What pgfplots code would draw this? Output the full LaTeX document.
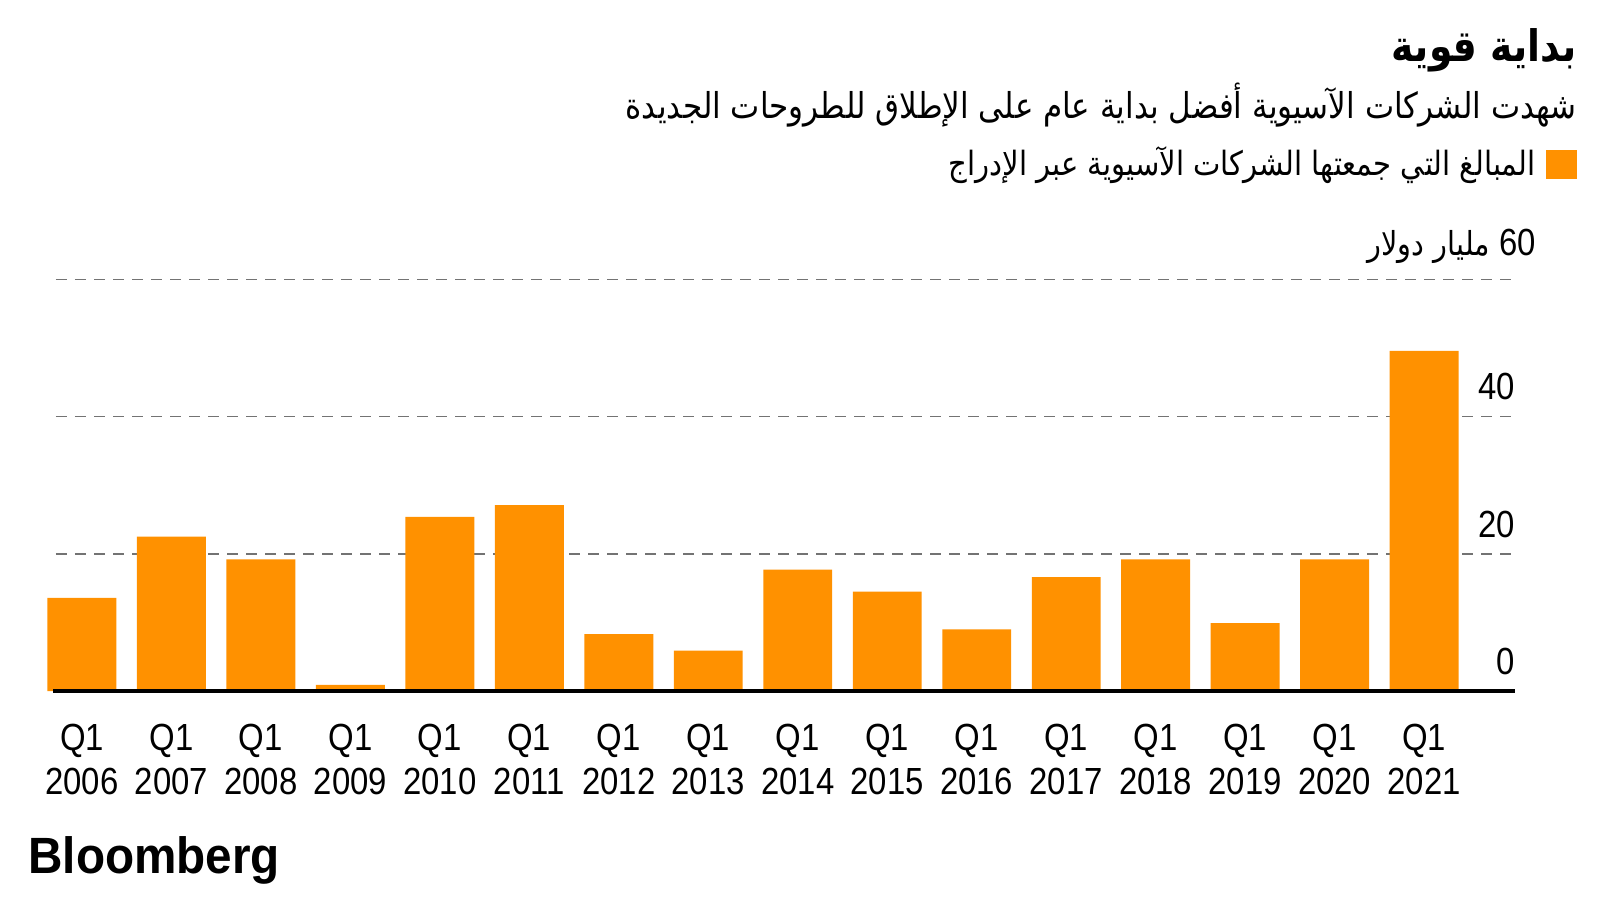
\documentclass[border=0pt]{standalone}
\usepackage{pgfplots}
\pgfplotsset{compat=1.18}
\usepackage{fontspec}
\setmainfont{Liberation Sans}[FakeStretch=0.87]
\newfontfamily\arabicfont[Script=Arabic,FakeStretch=0.87]{DejaVu Sans}
\newfontfamily\logofont{Liberation Sans}[FakeStretch=0.935]
\TeXXeTstate=1
\definecolor{bbOrange}{HTML}{FF9100}
\pgfplotstableread{
x y
0 13.6
1 22.5
2 19.2
3 0.9
4 25.4
5 27.1
6 8.3
7 5.9
8 17.7
9 14.5
10 9.0
11 16.6
12 19.2
13 9.9
14 19.2
15 49.6
}\datatable
\begin{document}
\begin{tikzpicture}
\useasboundingbox (0pt,0pt) rectangle (800pt,450pt);
\fill[white] (0pt,0pt) rectangle (800pt,450pt);
\begin{axis}[
  at={(28pt,104.5pt)}, anchor=south west, scale only axis,
  width=729.5pt, height=205.7pt,
  xmin=-0.29, xmax=16.016, ymin=0, ymax=60,
  axis line style={draw=none},
  xtick={0,...,15},
  xticklabels={{Q1\\2006},{Q1\\2007},{Q1\\2008},{Q1\\2009},{Q1\\2010},{Q1\\2011},{Q1\\2012},{Q1\\2013},{Q1\\2014},{Q1\\2015},{Q1\\2016},{Q1\\2017},{Q1\\2018},{Q1\\2019},{Q1\\2020},{Q1\\2021}},
  xticklabel style={align=center, font=\fontsize{18.9}{22.25}\selectfont, yshift=-13pt},
  ytick={0,20,40,60}, yticklabels={0,20,40,{}},
  yticklabel pos=right,
  yticklabel style={anchor=south east, inner sep=0pt, yshift=8pt, font=\fontsize{18.9}{22}\selectfont},
  major tick length=0pt,
  ymajorgrids, grid style={dash pattern=on 5.5pt off 4pt, line width=0.75pt, color=black!55},
  clip=false,
]
\addplot[ybar, bar width=0.77, fill=bbOrange, draw=none] table[x=x,y=y] {\datatable};
\addplot[black, line width=2pt, no marks] coordinates {(-0.32,0) (16.016,0)};
\node[anchor=south east, inner sep=0pt, xshift=10.5pt, yshift=8pt] at (axis cs:16.016,60) {\arabicfont\fontsize{16.5}{20}\selectfont\beginR\beginL{\normalfont\fontsize{18.9}{22}\selectfont 60}\endL{} مليار دولار\endR};
\end{axis}
\node[anchor=east, inner sep=0pt] at (788.5pt,425pt) {\arabicfont\bfseries\fontsize{21.7}{26}\selectfont\beginR بداية قوية\endR};
\node[anchor=east, inner sep=0pt] at (788.5pt,397.5pt) {\arabicfont\fontsize{17.8}{21}\selectfont\beginR شهدت الشركات الآسيوية أفضل بداية عام على الإطلاق للطروحات الجديدة\endR};
\fill[bbOrange] (773pt,360.5pt) rectangle (788.5pt,375pt);
\node[anchor=east, inner sep=0pt] at (768pt,367.5pt) {\arabicfont\fontsize{16.7}{20}\selectfont\beginR المبالغ التي جمعتها الشركات الآسيوية عبر الإدراج\endR};
\node[anchor=west, inner sep=0pt] at (14pt,20pt) {\logofont\bfseries\fontsize{25.5}{30}\selectfont Bloomberg};
\end{tikzpicture}
\end{document}
